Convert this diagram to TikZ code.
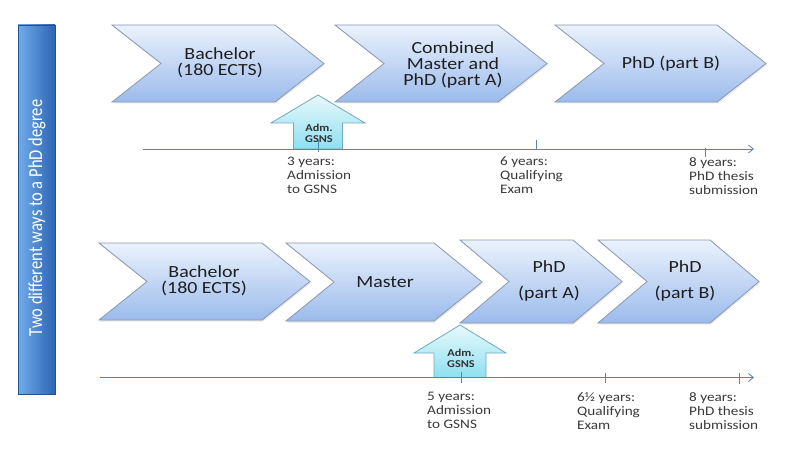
\documentclass[tikz,border=0pt]{standalone}
\usepackage{fontspec}
\setmainfont[FakeStretch=1.17]{Carlito}
\newfontfamily\barfont{Carlito}
\usepackage{tikz}
\usetikzlibrary{arrows.meta,shadows,positioning}
\definecolor{chevtop}{RGB}{235,242,253}
\definecolor{chevbot}{RGB}{155,187,236}
\definecolor{chevedge}{RGB}{138,152,176}
\definecolor{admtop}{RGB}{232,249,252}
\definecolor{admbot}{RGB}{142,223,241}
\definecolor{admedge}{RGB}{112,168,192}
\definecolor{lineblue}{RGB}{84,132,186}
\definecolor{barlight}{RGB}{112,172,236}
\definecolor{barmid}{RGB}{72,136,216}
\definecolor{bardark}{RGB}{44,100,178}
\definecolor{labelgray}{RGB}{58,58,58}

\begin{document}
\begin{tikzpicture}[x=1pt,y=-1pt]
                \tikzstyle{every node}+=[inner sep=0pt]
                \tikzstyle{chev}=[draw=chevedge, line width=0.8pt, top color=chevtop, bottom color=chevbot, drop shadow={opacity=0.18, shadow xshift=1pt, shadow yshift=-1.5pt}]
                \tikzstyle{chevtext}=[align=center, font=\fontsize{17}{16}\selectfont, text=black!88]
                \tikzstyle{admarrow}=[draw=admedge, line width=0.8pt, top color=admtop, bottom color=admbot]
                \tikzstyle{admtext}=[align=center, font=\bfseries\fontsize{10.5}{11}\selectfont, text=black!80]
                \tikzstyle{timeaxis}=[draw=lineblue, line width=0.8pt, -{Straight Barb[length=5pt,width=8pt]}]
                \tikzstyle{yeartick}=[draw=lineblue, line width=0.8pt]
                \tikzstyle{yearlabel}=[anchor=north west, align=left, font=\fontsize{13}{14}\selectfont, text=labelgray]
                \fill [white] (0,0) rectangle (787,449);
                \useasboundingbox (0,0) rectangle (787,449);
                \draw [draw=bardark!80!black, left color=barlight, middle color=barmid, right color=bardark] (18,25) rectangle (55,394);
                \node (waytitle) [rotate=90, text=white, font=\barfont\fontsize{16.5}{17}\selectfont] at (37,218) {\scalebox{1}[1.2]{Two different ways to a PhD degree}};
                % first way
                \draw [chev] (112,25) -- (275,25) -- (324,63.5) -- (275,102) -- (112,102) -- (161,63.5) -- cycle;
                \draw [chev] (335,25) -- (498,25) -- (547,63.5) -- (498,102) -- (335,102) -- (384,63.5) -- cycle;
                \draw [chev] (555,25) -- (717,25) -- (766,63.5) -- (717,102) -- (555,102) -- (604,63.5) -- cycle;
                \node (bach1) [chevtext] at (220,63) {Bachelor\\(180 ECTS)};
                \node (comb1) [chevtext] at (453,65) {Combined\\Master and\\PhD (part A)};
                \node (phdb1) [chevtext] at (671,64) {PhD (part B)};
                \coordinate (axis1s) at (143,149);
                \coordinate (axis1e) at (754,149);
                \draw [admarrow] (293.5,149) -- (293.5,123) -- (271,123) -- (318,95) -- (365,123) -- (342.5,123) -- (342.5,149) -- cycle;
                \node (adm1) [admtext] at (319,133) {Adm.\\GSNS};
                \draw [timeaxis] (axis1s) -- (axis1e);
                \draw [yeartick] (318,140) -- (318,152);
                \draw [yeartick] (536,140) -- (536,150);
                \draw [yeartick] (705,148) -- (705,157);
                \node (lab3y) [yearlabel] at (287,157) {3 years:\\Admission\\to GSNS};
                \node (lab6y) [yearlabel] at (500,157) {6 years:\\Qualifying\\Exam};
                \node (lab8y) [yearlabel] at (689,157) {8 years:\\PhD thesis\\submission};
                % second way
                \draw [chev] (99,243) -- (262,243) -- (310,281.5) -- (262,320) -- (99,320) -- (147,281.5) -- cycle;
                \draw [chev] (286,243) -- (434,243) -- (482,282) -- (434,321) -- (286,321) -- (334,282) -- cycle;
                \draw [chev] (460,240) -- (573,240) -- (622,281.5) -- (573,323) -- (460,323) -- (509,281.5) -- cycle;
                \draw [chev] (598,240) -- (710,240) -- (759,281.5) -- (710,323) -- (598,323) -- (647,281.5) -- cycle;
                \node (bach2) [chevtext] at (204,281) {Bachelor\\(180 ECTS)};
                \node (mast2) [chevtext] at (385,282) {Master};
                \node (phda2) [chevtext] at (549,281) {PhD\\[10pt](part A)};
                \node (phdb2) [chevtext] at (685,281) {PhD\\[10pt](part B)};
                \coordinate (axis2s) at (100,377.5);
                \coordinate (axis2e) at (754,377.5);
                \draw [admarrow] (434,377.5) -- (434,353) -- (414,353) -- (460,325) -- (506,353) -- (486,353) -- (486,377.5) -- cycle;
                \node (adm2) [admtext] at (461,358) {Adm.\\GSNS};
                \draw [timeaxis] (axis2s) -- (axis2e);
                \draw [yeartick] (461,372) -- (461,383);
                \draw [yeartick] (605,373) -- (605,383);
                \draw [yeartick] (739,373) -- (739,384);
                \node (lab5y) [yearlabel] at (427,392) {5 years:\\Admission\\to GSNS};
                \node (lab65y) [yearlabel] at (577,392) {6½ years:\\Qualifying\\Exam};
                \node (lab8yb) [yearlabel] at (689,392) {8 years:\\PhD thesis\\submission};
\end{tikzpicture}
\end{document}
